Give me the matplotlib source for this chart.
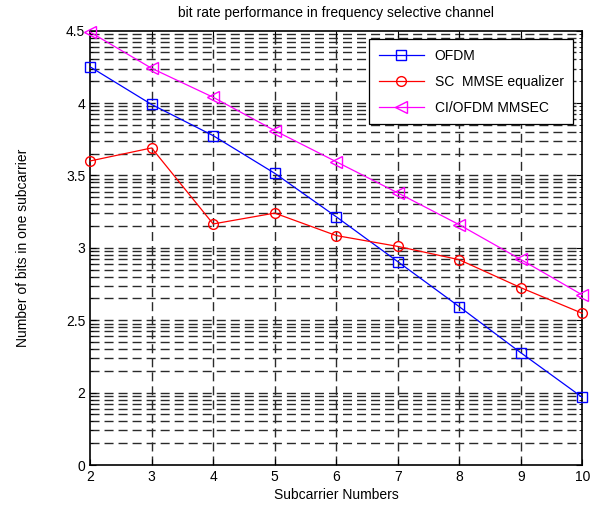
import numpy as np
import matplotlib
matplotlib.use("Agg")
import matplotlib.pyplot as plt

plt.rcParams["font.family"] = ["Liberation Sans", "DejaVu Sans"]

# Data
subcarriers = [2, 3, 4, 5, 6, 7, 8, 9, 10]
ofdm = [4.25, 3.99, 3.775, 3.515, 3.215, 2.905, 2.594, 2.276, 1.968]
sc_mmse = [3.60, 3.69, 3.165, 3.24, 3.085, 3.01, 2.918, 2.725, 2.548]
ci_ofdm = [4.49, 4.24, 4.04, 3.81, 3.595, 3.38, 3.16, 2.92, 2.675]

ytick_vals = [1.5, 2.0, 2.5, 3.0, 3.5, 4.0, 4.5]
ytick_labels = ["0", "2", "2.5", "3", "3.5", "4", "4.5"]

fig = plt.figure(figsize=(6.09, 5.11), dpi=100)
ax = fig.add_axes([0.148, 0.090, 0.808, 0.850])

grid_kw = dict(color="#2a2a2a", linestyle=(0, (6.5, 3.6)), linewidth=1.0, zorder=0)

# log-style minor grid inside every major interval (as in the MATLAB figure)
minor = []
for a in ytick_vals[:-1]:
    for k in range(2, 10):
        minor.append(a + 0.5 * np.log10(k))
for y in minor + ytick_vals[1:-1]:
    ax.axhline(y, **grid_kw)
for x in subcarriers[1:-1]:
    ax.axvline(x, **grid_kw)

ax.plot(subcarriers, ofdm, color="blue", marker="s", markersize=7, markerfacecolor="none",
        linewidth=0.9, label="OFDM", clip_on=False, zorder=3)
ax.plot(subcarriers, sc_mmse, color="red", marker="o", markersize=7, markerfacecolor="none",
        linewidth=0.9, label="SC  MMSE equalizer", clip_on=False, zorder=3)
ax.plot(subcarriers, ci_ofdm, color="magenta", marker="<", markersize=8, markerfacecolor="none",
        linewidth=0.9, label="CI/OFDM MMSEC", clip_on=False, zorder=3)

ax.set_xlim(2, 10)
ax.set_ylim(1.5, 4.5)
ax.set_xticks(subcarriers)
ax.set_yticks(ytick_vals)
ax.set_yticklabels(ytick_labels)
ax.set_yticks(minor, minor=True)
ax.tick_params(which="both", direction="in", top=True, right=True, labelsize=10)
ax.tick_params(which="major", length=4)
ax.tick_params(which="minor", length=2)
for s in ax.spines.values():
    s.set_linewidth(1.2)

ax.set_title("bit rate performance in frequency selective channel", fontsize=10, pad=10)
ax.set_xlabel("Subcarrier Numbers", fontsize=10, labelpad=3)
ax.set_ylabel("Number of bits in one subcarrier", fontsize=10, labelpad=26)

leg = ax.legend(loc="upper right", bbox_to_anchor=(0.982, 0.980), borderaxespad=0,
                fontsize=10, fancybox=False, framealpha=1, edgecolor="black",
                borderpad=0.7, handlelength=3.2, labelspacing=0.85)
leg.get_frame().set_linewidth(0.9)
leg.set_zorder(5)

fig.savefig("out.png", dpi=100)
